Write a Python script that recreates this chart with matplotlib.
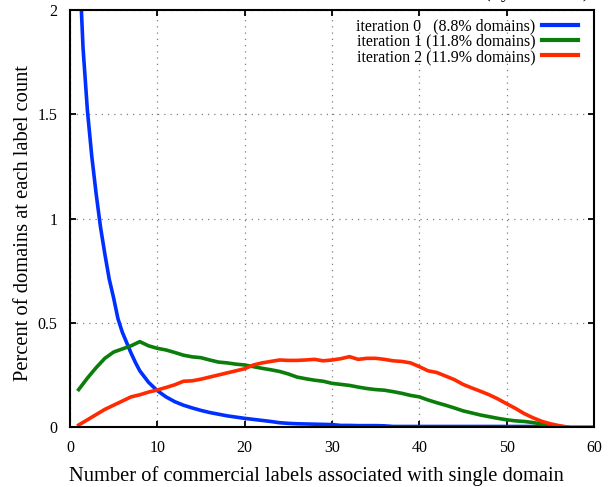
import matplotlib
matplotlib.use("Agg")
import matplotlib.pyplot as plt
import numpy as np

# iteration 0 is read more finely at the start, where it drops steeply
iter0_x = [1, 1.5, 2, 2.5, 3, 3.5, 4, 4.5, 5, 5.5, 6, 6.5, 7, 7.5, 8] + list(range(9, 57))
iter0 = [2.3, 1.82, 1.52, 1.3, 1.12, 0.96, 0.83, 0.71, 0.62, 0.52, 0.455, 0.405, 0.355, 0.31, 0.27,
         0.215, 0.175,
         0.145, 0.122, 0.105, 0.092, 0.080, 0.070, 0.062, 0.054, 0.048, 0.042,
         0.037, 0.032, 0.027, 0.021, 0.018, 0.016, 0.015, 0.014, 0.013, 0.012,
         0.008, 0.008, 0.007, 0.007, 0.007, 0.006, 0.003, 0.003, 0.003, 0.003,
         0.003, 0.003, 0.003, 0.003, 0.003, 0.003, 0.003, 0.003, 0.003, 0.003,
         0.003, 0.003, 0.003, 0.003, 0.003, 0.003]

label_count = np.arange(1, 61)
iter1 = [0.18, 0.235, 0.285, 0.33, 0.36, 0.375, 0.39, 0.41, 0.39, 0.378,
         0.37, 0.358, 0.345, 0.337, 0.333, 0.322, 0.312, 0.308, 0.302, 0.298,
         0.29, 0.282, 0.275, 0.267, 0.255, 0.24, 0.232, 0.225, 0.22, 0.21,
         0.205, 0.2, 0.192, 0.185, 0.18, 0.177, 0.17, 0.162, 0.152, 0.145,
         0.13, 0.117, 0.105, 0.092, 0.078, 0.068, 0.058, 0.05, 0.042, 0.035,
         0.03, 0.027, 0.022, 0.015, 0.008, 0.003, 0.0]
iter2 = [0.01, 0.035, 0.06, 0.085, 0.105, 0.125, 0.145, 0.155, 0.168, 0.178,
         0.19, 0.203, 0.22, 0.222, 0.23, 0.24, 0.25, 0.26, 0.27, 0.28,
         0.298, 0.308, 0.315, 0.322, 0.32, 0.32, 0.322, 0.325, 0.318, 0.322,
         0.328, 0.338, 0.325, 0.33, 0.33, 0.325, 0.318, 0.315, 0.308, 0.29,
         0.27, 0.262, 0.245, 0.228, 0.205, 0.188, 0.172, 0.155, 0.135, 0.112,
         0.09, 0.065, 0.045, 0.028, 0.016, 0.007, 0.0, 0.0, 0.0, 0.0]

labels = ["iteration 0   (8.8% domains)",
          "iteration 1 (11.8% domains)",
          "iteration 2 (11.9% domains)"]
colors = ["#0030ff", "#0a7d0a", "#ff2a00"]

xticks = [0, 10, 20, 30, 40, 50, 60]
yticks = [0, 0.5, 1, 1.5, 2]
ytick_labels = ["0", "0.5", "1", "1.5", "2"]

plt.rcParams["font.family"] = ["Liberation Serif", "DejaVu Serif"]

fig = plt.figure(figsize=(6.08, 4.87), dpi=100)
ax = fig.add_axes([0.115, 0.123, 0.862, 0.856])

xs = [iter0_x, label_count[:len(iter1)], label_count[:len(iter2)]]
series = [iter0, iter1, iter2]
for x, vals, lab, col in zip(xs, series, labels, colors):
    ax.plot(x, vals, color=col, linewidth=2.6, label=lab,
            solid_joinstyle="round")

ax.set_xlim(0, 60)
ax.set_ylim(0, 2)
ax.set_xticks(xticks)
ax.set_yticks(yticks)
ax.set_yticklabels(ytick_labels)
ax.tick_params(direction="in", length=4.5, width=1.3, top=True, right=True,
               labelsize=11.5, pad=9)
ax.grid(True, linestyle=(0, (1, 4)), color="#808080", linewidth=0.9)
for s in ax.spines.values():
    s.set_linewidth(1.5)

ax.set_xlabel("Number of commercial labels associated with single domain",
              fontsize=14.8)
ax.xaxis.set_label_coords(0.47, -0.094)
ax.set_ylabel("Percent of domains at each label count", fontsize=14.8)
ax.yaxis.set_label_coords(-0.07, 0.49)

leg = ax.legend(loc="upper right", bbox_to_anchor=(0.99, 1.007),
                frameon=False, markerfirst=False, fontsize=11.5,
                handlelength=2.2, handletextpad=0.45, labelspacing=-0.05,
                borderaxespad=0.3)
for line in leg.get_lines():
    line.set_linewidth(3)

# title cut off at the top of the original image
fig.text(0.97, 1.006, "(by iteration)", ha="right", va="baseline",
         fontsize=14.5)

fig.savefig("out.png", dpi=100)
